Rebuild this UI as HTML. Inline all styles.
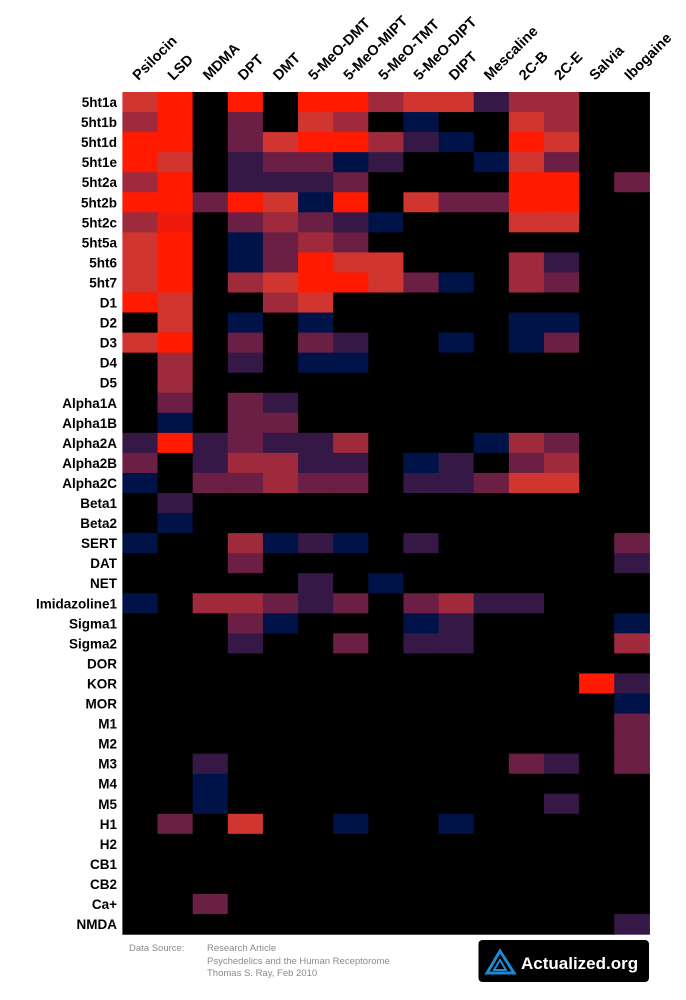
<!DOCTYPE html>
<html><head><meta charset="utf-8"><style>
html,body{margin:0;padding:0;background:#fff;}
svg{display:block;}
text{font-family:"Liberation Sans",sans-serif;}
</style></head><body>
<svg id="s" width="686" height="1000" xmlns="http://www.w3.org/2000/svg">
<rect x="0" y="0" width="686" height="1000" fill="#fff"/>
<g id="g"></g>
<text x="129" y="951" font-size="9.5" fill="#8a8a8a">Data Source:</text>
<text x="207" y="951" font-size="9.5" fill="#8a8a8a">Research Article</text>
<text x="207" y="964" font-size="9.5" fill="#8a8a8a">Psychedelics and the Human Receptorome</text>
<text x="207" y="976" font-size="9.5" fill="#8a8a8a">Thomas S. Ray, Feb 2010</text>
<rect x="478.5" y="940" width="170.5" height="42" rx="4" fill="#000"/>
<polygon points="500,951 487,973 514,973" fill="none" stroke="#1e88d0" stroke-width="3"/>
<polygon points="500,960 494,970 506,970" fill="none" stroke="#1e88d0" stroke-width="2"/>
<text x="521" y="969" font-size="17" font-weight="bold" fill="#fff">Actualized.org</text>
</svg>
<script>
var C={R:'#ff1a00',O:'#d0352f',C:'#9e2a3c',P:'#6b1f45',D:'#361847',N:'#001349','.':'#000',X:'#f01a0a'};
var cols=['Psilocin','LSD','MDMA','DPT','DMT','5-MeO-DMT','5-MeO-MIPT','5-MeO-TMT','5-MeO-DIPT','DIPT','Mescaline','2C-B','2C-E','Salvia','Ibogaine'];
var rows=[
['5ht1a','OR.R.RRCOODCC..'],
['5ht1b','CR.P.OC.N..OC..'],
['5ht1d','RR.PORRCDN.RO..'],
['5ht1e','RO.DPPND..NOP..'],
['5ht2a','CR.DDDP....RR.P'],
['5ht2b','RRPRONR.OPPRR..'],
['5ht2c','CX.PCPDN...OO..'],
['5ht5a','OR.NPCP........'],
['5ht6','OR.NPROO...CD..'],
['5ht7','OR.CORROPN.CP..'],
['D1','RO..CO.........'],
['D2','.O.N.N.....NN..'],
['D3','OR.P.PD..N.NP..'],
['D4','.C.D.NN........'],
['D5','.C.............'],
['Alpha1A','.P.PD..........'],
['Alpha1B','.N.PP..........'],
['Alpha2A','DRDPDDC...NCP..'],
['Alpha2B','P.DCCDD.ND.PC..'],
['Alpha2C','N.PPCPP.DDPOO..'],
['Beta1','.D.............'],
['Beta2','.N.............'],
['SERT','N..CNDN.D.....P'],
['DAT','...P..........D'],
['NET','.....D.N.......'],
['Imidazoline1','N.CCPDP.PCDD...'],
['Sigma1','...PN...ND....N'],
['Sigma2','...D..P.DD....C'],
['DOR','...............'],
['KOR','.............RD'],
['MOR','..............N'],
['M1','..............P'],
['M2','..............P'],
['M3','..D........PD.P'],
['M4','..N............'],
['M5','..N.........D..'],
['H1','.P.O..N..N.....'],
['H2','...............'],
['CB1','...............'],
['CB2','...............'],
['Ca+','..P............'],
['NMDA','..............D']];
var L=122.4,W=35.13,T=92,H=20.05,h='';
rows.forEach(function(r,i){
 var y=T+i*H;
 h+='<text x="117" y="'+(y+15)+'" font-size="13.5" font-weight="bold" text-anchor="end" fill="#000">'+r[0]+'</text>';
 for(var j=0;j<15;j++){var x=L+j*W;h+='<rect x="'+x.toFixed(2)+'" y="'+y.toFixed(2)+'" width="'+(W+0.6).toFixed(2)+'" height="'+(H+0.6).toFixed(2)+'" fill="'+C[r[1][j]]+'"/>';}
});
cols.forEach(function(c,j){
 var x=L+j*W+16,y=81;
 h+='<text x="'+x.toFixed(1)+'" y="'+y+'" font-size="14.5" font-weight="bold" fill="#000" transform="rotate(-45 '+x.toFixed(1)+' '+y+')">'+c+'</text>';
});
document.getElementById('g').innerHTML=h;
</script>
</body></html>
